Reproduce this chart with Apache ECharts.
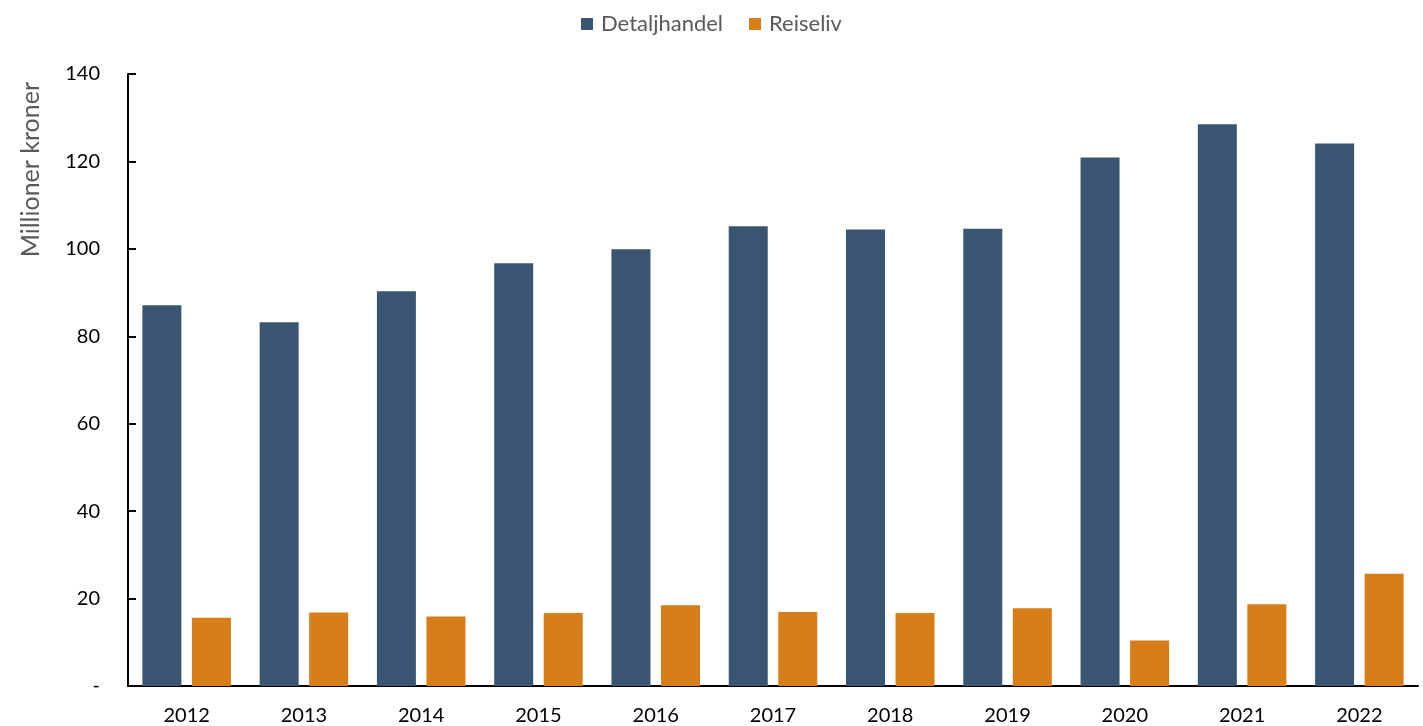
<!DOCTYPE html>
<html>
<head>
<meta charset="utf-8">
<script src="https://cdn.jsdelivr.net/npm/echarts@6/dist/echarts.min.js"></script>
<style>
  html, body { margin: 0; padding: 0; background: #fff; }
  #chart { width: 1423px; height: 726px; }
</style>
</head>
<body>
<div id="chart"></div>
<script>
// Yearly turnover, million NOK
const years = ['2012', '2013', '2014', '2015', '2016', '2017', '2018', '2019', '2020', '2021', '2022'];
const detaljhandel = [87.1, 83.2, 90.3, 96.7, 99.9, 105.2, 104.4, 104.6, 120.9, 128.5, 124.1];
const reiseliv = [15.6, 16.8, 15.9, 16.7, 18.5, 16.9, 16.7, 17.8, 10.4, 18.7, 25.7];
const yTicks = [0, 20, 40, 60, 80, 100, 120, 140];

const FONT = 'Lato, "Open Sans", sans-serif';

const chart = echarts.init(document.getElementById('chart'), null, { renderer: 'canvas' });
chart.setOption({
  animation: false,
  textStyle: { fontFamily: FONT },
  legend: {
    top: 8,
    left: 'center',
    itemWidth: 12,
    itemHeight: 12,
    itemGap: 26,
    icon: 'rect',
    textStyle: { fontFamily: FONT, fontSize: 22, color: '#595959', padding: [0, 0, 0, 3] },
    data: ['Detaljhandel', 'Reiseliv']
  },
  graphic: [{
    type: 'text',
    left: 18,
    top: 82,
    rotation: Math.PI / 2,
    style: {
      text: 'Millioner kroner',
      font: '25px ' + FONT,
      fill: '#595959'
    }
  }],
  grid: { left: 128, right: 5, top: 74, bottom: 39 },
  xAxis: {
    type: 'category',
    data: years,
    axisLine: { lineStyle: { color: '#000', width: 2 } },
    axisTick: { show: false },
    axisLabel: { color: '#000', fontSize: 20, margin: 20, fontFamily: FONT }
  },
  yAxis: {
    type: 'value',
    min: 0,
    max: 140,
    interval: 20,
    splitLine: { show: false },
    axisLine: { show: true, lineStyle: { color: '#000', width: 2 } },
    axisTick: { show: true, inside: true, length: 8, lineStyle: { color: '#000', width: 2 } },
    axisLabel: {
      color: '#000', fontSize: 20, margin: 28, fontFamily: FONT,
      formatter: v => (yTicks.includes(v) ? (v === 0 ? '-' : String(v)) : '')
    }
  },
  series: [
    {
      name: 'Detaljhandel',
      type: 'bar',
      data: detaljhandel,
      barWidth: 39,
      barGap: '27%',
      itemStyle: { color: '#3A5572' }
    },
    {
      name: 'Reiseliv',
      type: 'bar',
      data: reiseliv,
      barWidth: 39,
      barGap: '27%',
      itemStyle: { color: '#D77E18' }
    }
  ]
});
</script>
</body>
</html>
